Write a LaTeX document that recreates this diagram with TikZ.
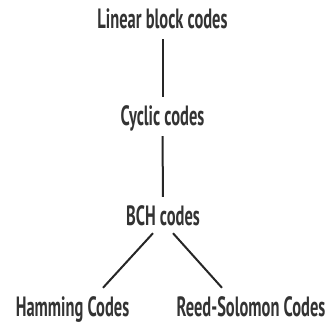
\documentclass[tikz,border=0pt]{standalone}
\usepackage{fontspec}
\setmainfont[FakeStretch=0.59]{PT Sans}
\usepackage{tikz}
\newcommand{\codefont}{\fontsize{28}{32}\selectfont\bfseries}

\begin{document}
\begin{tikzpicture}[x=1bp,y=1bp,
	codenode/.style={font=\codefont, text=black!80, text height=22bp, text depth=5bp, inner ysep=6bp, inner xsep=2bp, anchor=base},
	tree/.style={line width=2bp, black!85}]
	\useasboundingbox (0,0) rectangle (330,323);
	\node[codenode] (lin) at (162.5,295) {Linear block codes};
	\node[codenode] (cyc) at (162.5,198) {Cyclic codes};
	\node[codenode] (bch) at (163,98) {BCH codes};
	\node[codenode] (ham) at (72.5,7) {Hamming Codes};
	\node[codenode] (rs) at (251,7) {Reed-Solomon Codes};

	\draw[tree] (lin) -- (cyc);
	\draw[tree] (cyc) -- (bch);
	\draw[tree] ([xshift=-10bp,yshift=3bp]bch.south) -- ([xshift=30.5bp]ham.north);
	\draw[tree] ([xshift=10bp,yshift=3bp]bch.south) -- ([xshift=-29bp]rs.north);
\end{tikzpicture}
\end{document}
